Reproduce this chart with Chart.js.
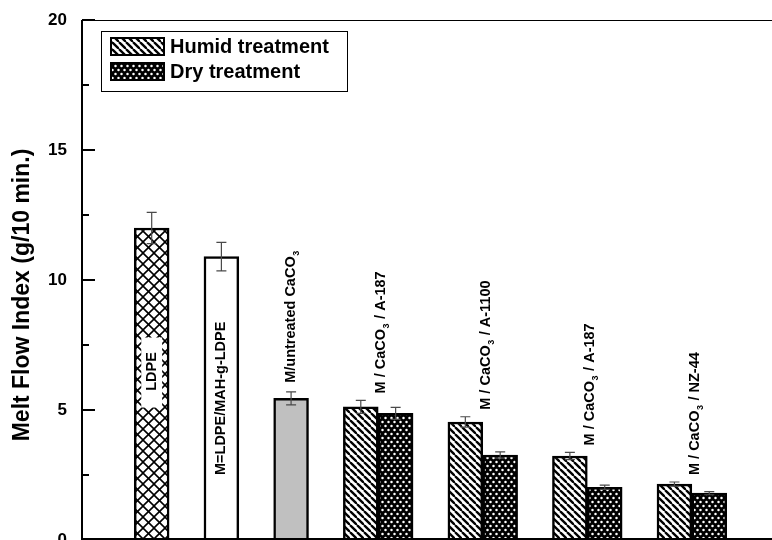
<!DOCTYPE html>
<html>
<head>
<meta charset="utf-8">
<title>Melt Flow Index</title>
<script src="https://cdn.jsdelivr.net/npm/chart.js@4.4.1/dist/chart.umd.min.js"></script>
<style>
  html, body { margin: 0; padding: 0; background: #fff; }
</style>
</head>
<body>
<canvas id="mfiChart" width="772" height="540"></canvas>
<script>
// reference samples (single bars)
const refLabels = ['LDPE', 'M=LDPE/MAH-g-LDPE', 'M/untreated CaCO3'];
const refValues = [12.0, 10.9, 5.45];
const refErrors = [0.6, 0.55, 0.25];

// treated filler, humid vs dry
const groupLabels = ['M / CaCO3 / A-187', 'M / CaCO3 / A-1100', 'M / CaCO3 / A-187', 'M / CaCO3 / NZ-44'];
const humidValues = [5.12, 4.54, 3.23, 2.15];
const humidErrors = [0.25, 0.2, 0.14, 0.08];
const dryValues = [4.87, 3.27, 2.03, 1.8];
const dryErrors = [0.23, 0.12, 0.08, 0.06];

const yTicks = [0, 5, 10, 15, 20];
const legendLabels = ['Humid treatment', 'Dry treatment'];
const yTitle = 'Melt Flow Index (g/10 min.)';

const FONT = '"Liberation Sans", Arial, Helvetica, sans-serif';

// slot of each bar on the x scale (one slot = one bar width)
const refSlot = i => 2 * i;
const groupSlot = j => 6 + 3 * j;

function makePattern(w, h, draw) {
    const c = document.createElement('canvas');
    c.width = w;
    c.height = h;
    const g = c.getContext('2d');
    draw(g, w, h);
    return c.getContext('2d').createPattern(c, 'repeat');
}

const humidPattern = makePattern(7, 7, (g, w, h) => {
    g.fillStyle = '#fff';
    g.fillRect(0, 0, w, h);
    g.strokeStyle = '#000';
    g.lineWidth = 2.3;
    for (let k = -1; k <= 1; k++) {
        g.beginPath();
        g.moveTo(k * w, 0);
        g.lineTo(k * w + w, h);
        g.stroke();
    }
});

const dryPattern = makePattern(6, 8, (g, w, h) => {
    g.fillStyle = '#000';
    g.fillRect(0, 0, w, h);
    g.fillStyle = '#fff';
    [[1.5, 2], [4.5, 6]].forEach(([x, y]) => {
        g.beginPath();
        g.arc(x, y, 1.25, 0, Math.PI * 2);
        g.fill();
    });
});

const crossPattern = makePattern(11, 11, (g, w, h) => {
    g.fillStyle = '#fff';
    g.fillRect(0, 0, w, h);
    g.strokeStyle = '#000';
    g.lineWidth = 1.6;
    for (let k = -1; k <= 1; k++) {
        g.beginPath();
        g.moveTo(k * w, 0);
        g.lineTo(k * w + w, h);
        g.stroke();
        g.beginPath();
        g.moveTo(k * w, h);
        g.lineTo(k * w + w, 0);
        g.stroke();
    }
});

// text with the 3 of CaCO3 as subscript, drawn upward from (0,0) in the rotated frame
function drawLabel(ctx, text, size) {
    const parts = text.split('CaCO3');
    let x = 0;
    parts.forEach((p, i) => {
        ctx.font = `bold ${size}px ${FONT}`;
        ctx.fillText(p, x, 0);
        x += ctx.measureText(p).width;
        if (i < parts.length - 1) {
            ctx.fillText('CaCO', x, 0);
            x += ctx.measureText('CaCO').width;
            ctx.font = `bold ${Math.round(size * 0.62)}px ${FONT}`;
            ctx.fillText('3', x + 0.5, size * 0.38);
            x += ctx.measureText('3').width + 1;
        }
    });
    return x;
}

function labelWidth(ctx, text, size) {
    ctx.save();
    ctx.globalAlpha = 0;
    const w = drawLabel(ctx, text, size);
    ctx.restore();
    return w;
}

const decorPlugin = {
    id: 'decor',
    afterDatasetsDraw(chart) {
        const ctx = chart.ctx;
        const xs = chart.scales.x;
        const ys = chart.scales.y;
        const half = (xs.getPixelForValue(1) - xs.getPixelForValue(0)) / 2;

        // white window behind the LDPE text
        const lx = xs.getPixelForValue(refSlot(0));
        const lyc = ys.getPixelForValue(refValues[0] * 0.54);
        ctx.save();
        ctx.fillStyle = '#fff';
        ctx.fillRect(lx - half + 7, lyc - 34, 2 * half - 14, 70);
        ctx.restore();

        // error bars
        const errs = [];
        refValues.forEach((v, i) => errs.push([refSlot(i), v, refErrors[i]]));
        humidValues.forEach((v, j) => errs.push([groupSlot(j), v, humidErrors[j]]));
        dryValues.forEach((v, j) => errs.push([groupSlot(j) + 1, v, dryErrors[j]]));
        ctx.save();
        ctx.strokeStyle = '#4a4a4a';
        ctx.lineWidth = 1.2;
        const cap = 5;
        errs.forEach(([s, v, e]) => {
            const x = xs.getPixelForValue(s);
            const yt = ys.getPixelForValue(v + e);
            const yb = ys.getPixelForValue(v - e);
            ctx.beginPath();
            ctx.moveTo(x, yt); ctx.lineTo(x, yb);
            ctx.moveTo(x - cap, yt); ctx.lineTo(x + cap, yt);
            ctx.moveTo(x - cap, yb); ctx.lineTo(x + cap, yb);
            ctx.stroke();
        });
        ctx.restore();

        // rotated sample labels
        ctx.save();
        ctx.fillStyle = '#000';
        ctx.textAlign = 'left';
        ctx.textBaseline = 'middle';
        const size = 14.5;
        refLabels.forEach((t, i) => {
            const x = xs.getPixelForValue(refSlot(i));
            let yb;
            if (i < 2) {
                const w = labelWidth(ctx, t, size);
                const yc = ys.getPixelForValue(refValues[i] * (i === 0 ? 0.54 : 0.5));
                yb = yc + w / 2;
            } else {
                yb = ys.getPixelForValue(refValues[i] + refErrors[i]) - 9;
            }
            ctx.save();
            ctx.translate(x, yb);
            ctx.rotate(-Math.PI / 2);
            drawLabel(ctx, t, size);
            ctx.restore();
        });
        groupLabels.forEach((t, j) => {
            const x = xs.getPixelForValue(groupSlot(j) + 0.5) + 3;
            const top = Math.max(humidValues[j] + humidErrors[j], dryValues[j] + dryErrors[j]);
            const yb = ys.getPixelForValue(top) - 7;
            ctx.save();
            ctx.translate(x, yb);
            ctx.rotate(-Math.PI / 2);
            drawLabel(ctx, t, size);
            ctx.restore();
        });
        ctx.restore();
    },
    afterDraw(chart) {
        const ctx = chart.ctx;
        const ys = chart.scales.y;
        const a = chart.chartArea;
        ctx.save();
        ctx.strokeStyle = '#000';

        // frame
        ctx.lineWidth = 1;
        ctx.beginPath();
        ctx.moveTo(a.left, a.top + 0.5);
        ctx.lineTo(a.right, a.top + 0.5);
        ctx.stroke();
        ctx.lineWidth = 2;
        ctx.beginPath();
        ctx.moveTo(a.left, a.top);
        ctx.lineTo(a.left, a.bottom);
        ctx.moveTo(a.left, a.bottom - 1);
        ctx.lineTo(a.right, a.bottom - 1);
        ctx.stroke();

        // inward ticks, major and minor
        for (let v = 0; v <= 20; v += 2.5) {
            const y = Math.round(ys.getPixelForValue(v));
            const len = v % 5 === 0 ? 13 : 7;
            ctx.beginPath();
            ctx.moveTo(a.left, y);
            ctx.lineTo(a.left + len, y);
            ctx.stroke();
        }

        // y axis title
        ctx.save();
        ctx.translate(23, (a.top + a.bottom) / 2 + 15);
        ctx.rotate(-Math.PI / 2);
        ctx.font = `bold 23px ${FONT}`;
        ctx.fillStyle = '#000';
        ctx.textAlign = 'center';
        ctx.textBaseline = 'middle';
        ctx.fillText(yTitle, 0, 0);
        ctx.restore();

        // legend
        const bx = 101, by = 31, bw = 246, bh = 60;
        ctx.lineWidth = 1;
        ctx.strokeRect(bx + 0.5, by + 0.5, bw, bh);
        const pats = [humidPattern, dryPattern];
        ctx.font = `bold 20px ${FONT}`;
        ctx.textBaseline = 'middle';
        legendLabels.forEach((t, i) => {
            const sy = by + 7 + i * 25;
            ctx.fillStyle = pats[i];
            ctx.fillRect(bx + 10, sy, 53, 17);
            ctx.lineWidth = 2;
            ctx.strokeRect(bx + 10, sy, 53, 17);
            ctx.fillStyle = '#000';
            ctx.fillText(t, bx + 69, sy + 9);
        });
        ctx.restore();
    }
};

new Chart(document.getElementById('mfiChart'), {
    type: 'bar',
    data: {
        datasets: [
            {
                label: 'References',
                data: refValues.map((v, i) => ({ x: refSlot(i), y: v })),
                backgroundColor: [crossPattern, '#ffffff', '#c0c0c0']
            },
            {
                label: legendLabels[0],
                data: humidValues.map((v, j) => ({ x: groupSlot(j), y: v })),
                backgroundColor: humidPattern
            },
            {
                label: legendLabels[1],
                data: dryValues.map((v, j) => ({ x: groupSlot(j) + 1, y: v })),
                backgroundColor: dryPattern
            }
        ]
    },
    options: {
        responsive: false,
        animation: false,
        devicePixelRatio: 1,
        layout: { padding: { top: 20, right: 0, bottom: 0, left: 0 } },
        datasets: {
            bar: {
                grouped: false,
                barPercentage: 1,
                categoryPercentage: 1,
                borderColor: '#000',
                borderWidth: 2.5
            }
        },
        plugins: {
            legend: { display: false },
            tooltip: { enabled: false }
        },
        scales: {
            x: {
                type: 'linear',
                min: -2,
                max: 17.8,
                offset: false,
                display: false,
                ticks: { stepSize: 1 }
            },
            y: {
                min: 0,
                max: 20,
                border: { display: false },
                grid: { display: false },
                afterBuildTicks: s => { s.ticks = yTicks.map(v => ({ value: v })); },
                ticks: {
                    padding: 7,
                    color: '#000',
                    font: { family: FONT, size: 17, weight: 'bold' }
                },
                title: { display: false },
                afterFit: s => {
                    s.width = 82;
                    s.paddingTop = 0;
                    s.paddingBottom = 0;
                }
            }
        }
    },
    plugins: [decorPlugin]
});
</script>
</body>
</html>
